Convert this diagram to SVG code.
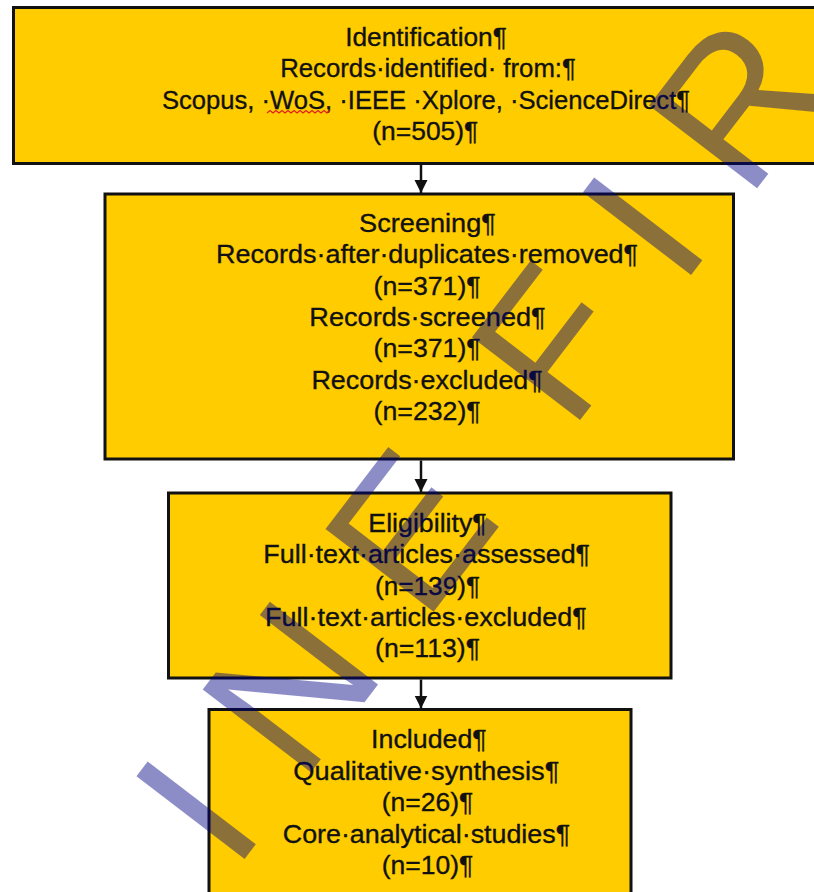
<svg xmlns="http://www.w3.org/2000/svg" width="814" height="892" viewBox="0 0 814 892">
<defs>
<style>
.box{fill:#FFCC00;stroke:#111;stroke-width:3}
.t{font-family:"Liberation Sans",Arial,sans-serif;font-size:26.5px;fill:#111;stroke:#111;stroke-width:0.35;text-anchor:middle}
.conn{stroke:#111;stroke-width:2.5;fill:none}
.wm{font-family:"Liberation Sans",Arial,sans-serif;font-size:198px;fill:#000080;fill-opacity:0.45}
</style>
<marker id="arr" markerUnits="userSpaceOnUse" markerWidth="14" markerHeight="15" refX="13" refY="7" orient="auto">
<path d="M0,0.5 L13,7 L0,13.5 Z" fill="#111"/>
</marker>
</defs>
<rect x="0" y="0" width="814" height="892" fill="#FFFFFF"/>

<g id="node-identification">
<rect class="box" x="13.5" y="7.5" width="810" height="156"/>
<text class="t" x="426" y="46" textLength="161.7" lengthAdjust="spacingAndGlyphs">Identification¶</text>
<text class="t" x="428" y="77.4" textLength="295.7" lengthAdjust="spacingAndGlyphs">Records·identified· from:¶</text>
<text class="t" x="426" y="108.8" textLength="528" lengthAdjust="spacingAndGlyphs">Scopus, ·WoS, ·IEEE ·Xplore, ·ScienceDirect¶</text>
<polyline points="267,113 270,110.5 273,113 276,110.5 279,113 282,110.5 285,113 288,110.5 291,113 294,110.5 297,113 300,110.5 303,113 306,110.5 309,113 312,110.5 315,113 318,110.5 321,113 324,110.5 327,113 330,110.5" fill="none" stroke="#E02020" stroke-width="1.2"/>
<text class="t" x="425.3" y="140.2" textLength="106" lengthAdjust="spacingAndGlyphs">(n=505)¶</text>
</g>

<g id="node-screening">
<rect class="box" x="105" y="194" width="628.5" height="265"/>
<text class="t" x="427.5" y="231.7" textLength="136.8" lengthAdjust="spacingAndGlyphs">Screening¶</text>
<text class="t" x="427.1" y="263.1" textLength="422" lengthAdjust="spacingAndGlyphs">Records·after·duplicates·removed¶</text>
<text class="t" x="427.1" y="294.5" textLength="107" lengthAdjust="spacingAndGlyphs">(n=371)¶</text>
<text class="t" x="427.5" y="325.9" textLength="236.3" lengthAdjust="spacingAndGlyphs">Records·screened¶</text>
<text class="t" x="427.1" y="357.3" textLength="107" lengthAdjust="spacingAndGlyphs">(n=371)¶</text>
<text class="t" x="427.1" y="388.7" textLength="231.4" lengthAdjust="spacingAndGlyphs">Records·excluded¶</text>
<text class="t" x="427.1" y="420.1" textLength="107" lengthAdjust="spacingAndGlyphs">(n=232)¶</text>
</g>

<g id="node-eligibility">
<rect class="box" x="168.5" y="493" width="502.5" height="185"/>
<text class="t" x="427.5" y="531.7" textLength="118.4" lengthAdjust="spacingAndGlyphs">Eligibility¶</text>
<text class="t" x="426.7" y="563.1" textLength="326.7" lengthAdjust="spacingAndGlyphs">Full·text·articles·assessed¶</text>
<text class="t" x="427.5" y="594.5" textLength="105" lengthAdjust="spacingAndGlyphs">(n=139)¶</text>
<text class="t" x="425.9" y="625.9" textLength="321.7" lengthAdjust="spacingAndGlyphs">Full·text·articles·excluded¶</text>
<text class="t" x="427.5" y="657.3" textLength="105" lengthAdjust="spacingAndGlyphs">(n=113)¶</text>
</g>

<g id="node-included">
<rect class="box" x="209" y="709.5" width="422" height="200"/>
<text class="t" x="428.9" y="748.3" textLength="115.7" lengthAdjust="spacingAndGlyphs">Included¶</text>
<text class="t" x="426.3" y="779.7" textLength="266" lengthAdjust="spacingAndGlyphs">Qualitative·synthesis¶</text>
<text class="t" x="427.5" y="811.1" textLength="91.6" lengthAdjust="spacingAndGlyphs">(n=26)¶</text>
<text class="t" x="426.4" y="842.5" textLength="287.3" lengthAdjust="spacingAndGlyphs">Core·analytical·studies¶</text>
<text class="t" x="427.5" y="873.9" textLength="91.6" lengthAdjust="spacingAndGlyphs">(n=10)¶</text>
</g>

<g id="connectors">
<line class="conn" x1="421" y1="165" x2="421" y2="193" marker-end="url(#arr)"/>
<line class="conn" x1="421" y1="460.5" x2="421" y2="492" marker-end="url(#arr)"/>
<line class="conn" x1="421" y1="679.5" x2="421" y2="708.5" marker-end="url(#arr)"/>
</g>

<g id="watermark" transform="rotate(-52.6)">
<text class="wm" x="-552 -441 -239 2.5 183 294" y="716">INEFIR</text>
</g>
</svg>
